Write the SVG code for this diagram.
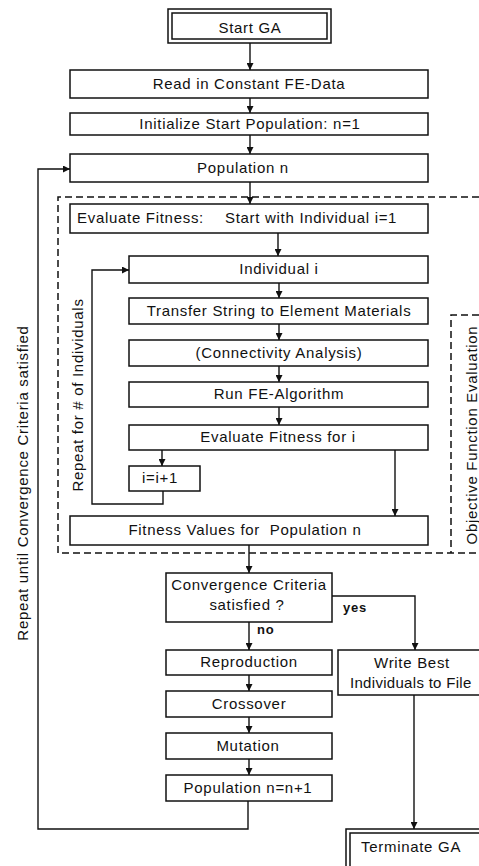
<svg xmlns="http://www.w3.org/2000/svg" width="479" height="866" viewBox="0 0 479 866">
<defs>
<style>
.b{fill:#fff;stroke:#111;stroke-width:1.5}
.t{font-family:"Liberation Sans",Arial,sans-serif;font-size:15px;letter-spacing:0.7px;fill:#111;text-anchor:middle}
.l{text-anchor:start}
.c{fill:none;stroke:#111;stroke-width:1.4}
.d{fill:none;stroke:#111;stroke-width:1.5;stroke-dasharray:7 4}
.y{font-family:"Liberation Sans",Arial,sans-serif;font-size:13px;font-weight:bold;letter-spacing:0.8px;fill:#111}
</style>
<marker id="ah" viewBox="0 0 8 8" refX="8" refY="4" markerWidth="7" markerHeight="7" orient="auto" markerUnits="userSpaceOnUse">
<path d="M0,0 L8,4 L0,8 z" fill="#111"/>
</marker>
</defs>
<rect width="479" height="866" fill="#fff"/>

<g id="regions">
<path class="d" d="M479,197 H58 V553 H479"/>
<path class="d" d="M479,315 H451 V553"/>
</g>

<g id="connectors">
<path class="c" d="M250,43 V70" marker-end="url(#ah)"/>
<path class="c" d="M250,98 V113" marker-end="url(#ah)"/>
<path class="c" d="M250,135 V154" marker-end="url(#ah)"/>
<path class="c" d="M250,182 V204" marker-end="url(#ah)"/>
<path class="c" d="M278,233 V256" marker-end="url(#ah)"/>
<path class="c" d="M279,283 V298" marker-end="url(#ah)"/>
<path class="c" d="M279,324 V340" marker-end="url(#ah)"/>
<path class="c" d="M279,366 V382" marker-end="url(#ah)"/>
<path class="c" d="M279,407 V425" marker-end="url(#ah)"/>
<path class="c" d="M162,450 V466" marker-end="url(#ah)"/>
<path class="c" d="M395,450 V516" marker-end="url(#ah)"/>
<path class="c" d="M163,491 V504 H92 V270 H129" marker-end="url(#ah)"/>
<path class="c" d="M249,545 V573" marker-end="url(#ah)"/>
<path class="c" d="M249,622 V650" marker-end="url(#ah)"/>
<path class="c" d="M249,675 V691" marker-end="url(#ah)"/>
<path class="c" d="M249,717 V733" marker-end="url(#ah)"/>
<path class="c" d="M249,759 V775" marker-end="url(#ah)"/>
<path class="c" d="M332,596 H415 V650" marker-end="url(#ah)"/>
<path class="c" d="M414,695 V829" marker-end="url(#ah)"/>
<path class="c" d="M248,801 V829 H38 V169 H70" marker-end="url(#ah)"/>
<text class="y" x="343" y="612">yes</text>
<text class="y" x="257" y="634">no</text>
</g>

<g id="start">
<rect class="b" x="168" y="9" width="163" height="34"/>
<rect class="b" x="172" y="13" width="155" height="26"/>
<text class="t" x="250" y="33">Start GA</text>
</g>
<g id="read">
<rect class="b" x="70" y="70" width="358" height="28"/>
<text class="t" x="249" y="89">Read in Constant FE-Data</text>
</g>
<g id="init">
<rect class="b" x="70" y="113" width="358" height="22"/>
<text class="t" x="250" y="129">Initialize Start Population: n=1</text>
</g>
<g id="population">
<rect class="b" x="70" y="154" width="358" height="28"/>
<text class="t" x="243" y="173">Population n</text>
</g>
<g id="evalstart">
<rect class="b" x="70" y="204" width="358" height="29"/>
<text class="t l" x="77" y="223">Evaluate Fitness:</text>
<text class="t l" x="225" y="223">Start with Individual i=1</text>
</g>
<g id="individual">
<rect class="b" x="129" y="256" width="299" height="27"/>
<text class="t" x="279" y="274">Individual i</text>
</g>
<g id="transfer">
<rect class="b" x="129" y="298" width="299" height="26"/>
<text class="t" x="279" y="316">Transfer String to Element Materials</text>
</g>
<g id="connectivity">
<rect class="b" x="129" y="340" width="299" height="26"/>
<text class="t" x="279" y="358">(Connectivity Analysis)</text>
</g>
<g id="runfe">
<rect class="b" x="129" y="382" width="299" height="25"/>
<text class="t" x="279" y="399">Run FE-Algorithm</text>
</g>
<g id="evali">
<rect class="b" x="129" y="425" width="299" height="25"/>
<text class="t" x="278" y="442">Evaluate Fitness for i</text>
</g>
<g id="increment">
<rect class="b" x="129" y="466" width="71" height="25"/>
<text class="t" x="160" y="483">i=i+1</text>
</g>
<g id="fitnessvalues">
<rect class="b" x="70" y="516" width="358" height="29"/>
<text class="t" x="245" y="535" xml:space="preserve">Fitness Values for  Population n</text>
</g>
<g id="convergence">
<rect class="b" x="166" y="573" width="166" height="49"/>
<text class="t" x="249" y="590">Convergence Criteria</text>
<text class="t" x="247" y="610">satisfied ?</text>
</g>
<g id="reproduction">
<rect class="b" x="166" y="650" width="166" height="25"/>
<text class="t" x="249" y="667">Reproduction</text>
</g>
<g id="crossover">
<rect class="b" x="166" y="691" width="166" height="26"/>
<text class="t" x="249" y="709">Crossover</text>
</g>
<g id="mutation">
<rect class="b" x="166" y="733" width="166" height="26"/>
<text class="t" x="248" y="751">Mutation</text>
</g>
<g id="nextpop">
<rect class="b" x="166" y="775" width="166" height="26"/>
<text class="t" x="248" y="793">Population n=n+1</text>
</g>
<g id="writebest">
<rect class="b" x="338" y="650" width="150" height="45"/>
<text class="t" x="412" y="668">Write Best</text>
<text class="t l" x="350" y="688" style="letter-spacing:0.3px">Individuals to File</text>
</g>
<g id="terminate">
<rect class="b" x="346" y="829" width="150" height="50"/>
<rect class="b" x="350" y="833" width="150" height="50"/>
<text class="t l" x="361" y="852">Terminate GA</text>
</g>

<g id="labels">
<text class="t" transform="translate(28,483) rotate(-90)">Repeat until Convergence Criteria satisfied</text>
<text class="t" transform="translate(83,395) rotate(-90)">Repeat for # of Individuals</text>
<text class="t" transform="translate(477,435) rotate(-90)">Objective Function Evaluation</text>
</g>
</svg>
